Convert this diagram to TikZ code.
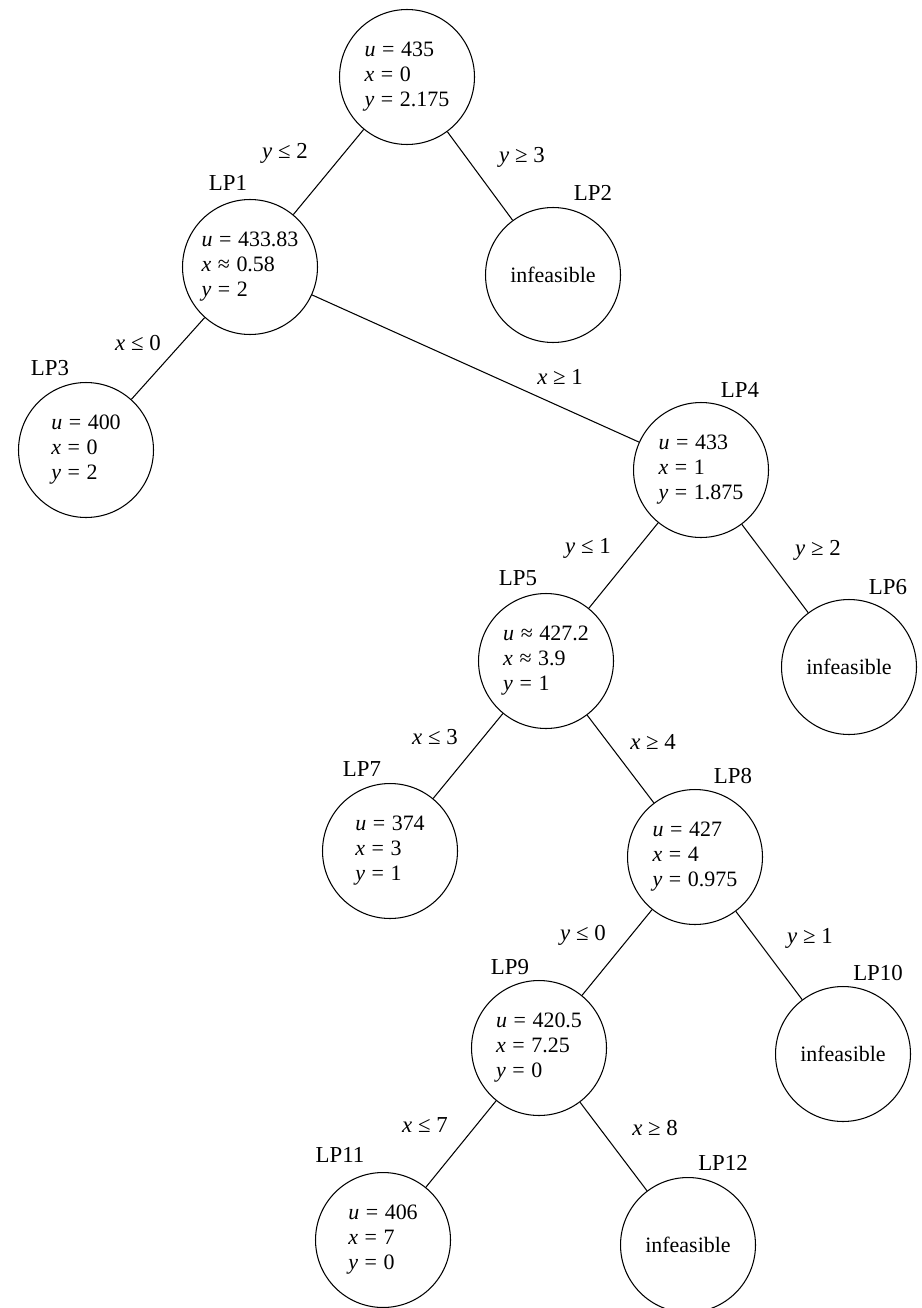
\documentclass[tikz,border=0pt]{standalone}
\usepackage{fontspec}
\setmainfont{Liberation Serif}
\begin{document}
\begin{tikzpicture}[x=0.02cm,y=-0.02cm,
  lp/.style={draw,circle,minimum size=2.70cm,inner sep=0pt,align=left,line width=0.6pt,font=\fontsize{12.5}{14.2}\selectfont},
  tag/.style={font=\fontsize{13}{14}\selectfont,inner sep=1pt},
  cond/.style={font=\fontsize{13}{14}\selectfont,inner sep=1pt},
  edge/.style={line width=0.6pt}]
\useasboundingbox (0,0) rectangle (921,1308);
\newcommand{\vu}{\textit{u}}
\newcommand{\vx}{\textit{x}}
\newcommand{\vy}{\textit{y}}
\newcommand{\eqq}{\hspace{0.3em}=\hspace{0.3em}}
\newcommand{\apx}{\hspace{0.3em}≈\hspace{0.3em}}
\newcommand{\lee}{\hspace{0.25em}≤\hspace{0.25em}}
\newcommand{\gee}{\hspace{0.25em}≥\hspace{0.25em}}
% nodes
\node[lp] (r) at (407,77) {\vu\eqq435\\\vx\eqq0\\\vy\eqq2.175};
\node[lp] (p1) at (250,267) {\vu\eqq433.83\\\vx\apx0.58\\\vy\eqq2};
\node[lp] (p2) at (553,275) {infeasible};
\node[lp] (p3) at (86,450) {\vu\eqq400\\\vx\eqq0\\\vy\eqq2};
\node[lp] (p4) at (701,470) {\vu\eqq433\\\vx\eqq1\\\vy\eqq1.875};
\node[lp] (p5) at (546,661) {\vu\apx427.2\\\vx\apx3.9\\\vy\eqq1};
\node[lp] (p6) at (849,667) {infeasible};
\node[lp] (p7) at (390,851) {\vu\eqq374\\\vx\eqq3\\\vy\eqq1};
\node[lp] (p8) at (695,857) {\vu\eqq427\\\vx\eqq4\\\vy\eqq0.975};
\node[lp] (p9) at (539,1048) {\vu\eqq420.5\\\vx\eqq7.25\\\vy\eqq0};
\node[lp] (p10) at (843,1054) {infeasible};
\node[lp] (p11) at (383,1240) {\vu\eqq406\\\vx\eqq7\\\vy\eqq0};
\node[lp] (p12) at (688,1245) {infeasible};
% tags
\node[tag] (t1) at (228,183) {LP1};
\node[tag] (t2) at (593,193) {LP2};
\node[tag] (t3) at (50,368) {LP3};
\node[tag] (t4) at (740,390) {LP4};
\node[tag] (t5) at (518,578) {LP5};
\node[tag] (t6) at (888,587) {LP6};
\node[tag] (t7) at (362,769) {LP7};
\node[tag] (t8) at (733,776) {LP8};
\node[tag] (t9) at (510,967) {LP9};
\node[tag] (t10) at (878,973) {LP10};
\node[tag] (t11) at (340,1155) {LP11};
\node[tag] (t12) at (723,1163) {LP12};
% edges
\draw[edge] (r) -- (p1);
\draw[edge] (r) -- (p2);
\draw[edge] (p1) -- (p3);
\draw[edge] (p1) -- (p4);
\draw[edge] (p4) -- (p5);
\draw[edge] (p4) -- (p6);
\draw[edge] (p5) -- (p7);
\draw[edge] (p5) -- (p8);
\draw[edge] (p8) -- (p9);
\draw[edge] (p8) -- (p10);
\draw[edge] (p9) -- (p11);
\draw[edge] (p9) -- (p12);
% conditions
\node[cond] (c1) at (285,153) {\vy\lee2};
\node[cond] (c2) at (522,157) {\vy\gee3};
\node[cond] (c3) at (138,343) {\vx\lee0};
\node[cond] (c4) at (560,377) {\vx\gee1};
\node[cond] (c5) at (588,548) {\vy\lee1};
\node[cond] (c6) at (818,550) {\vy\gee2};
\node[cond] (c7) at (435,737) {\vx\lee3};
\node[cond] (c8) at (653,742) {\vx\gee4};
\node[cond] (c9) at (583,935) {\vy\lee0};
\node[cond] (c10) at (810,938) {\vy\gee1};
\node[cond] (c11) at (425,1125) {\vx\lee7};
\node[cond] (c12) at (655,1128) {\vx\gee8};
\end{tikzpicture}
\end{document}
